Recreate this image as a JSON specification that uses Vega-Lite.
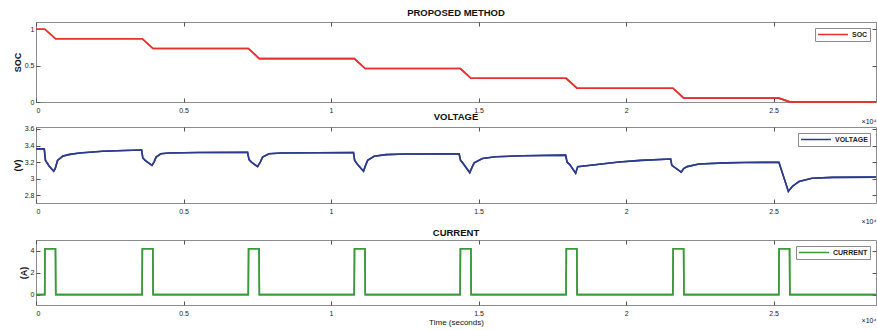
{
  "$schema": "https://vega.github.io/schema/vega-lite/v6.json",
  "padding": {"left": 12, "top": 7, "right": 0, "bottom": 0},
  "background": "white",
  "config": {
    "font": "Liberation Sans",
    "view": {"stroke": "#8c8c8c", "strokeWidth": 1},
    "axis": {
      "domain": false, "grid": false, "tickSize": -4, "tickColor": "#555",
      "labelFontSize": 7, "labelColor": "#222", "labelFont": "Liberation Sans",
      "titleFont": "Liberation Sans", "titleFontSize": 9, "titleFontWeight": "bold", "titleColor": "#111"
    },
    "legend": {
      "orient": "top-right", "offset": 6, "padding": 2, "strokeColor": "#8c8c8c", "fillColor": "white",
      "symbolType": "stroke", "symbolSize": 900, "symbolStrokeWidth": 1.5, "labelFontSize": 7,
      "labelFontWeight": "bold", "labelColor": "#222", "title": null, "labelOffset": 3, "clipHeight": 9
    },
    "title": {"fontSize": 9.5, "fontWeight": "bold", "color": "#111", "font": "Liberation Sans"}
  },
  "datasets": {
    "soc": [
      {"t": 0, "v": 1, "s": "SOC"}, {"t": 300, "v": 1, "s": "SOC"}, {"t": 665, "v": 0.87, "s": "SOC"},
      {"t": 3600, "v": 0.87, "s": "SOC"}, {"t": 3965, "v": 0.736, "s": "SOC"},
      {"t": 7200, "v": 0.736, "s": "SOC"}, {"t": 7565, "v": 0.597, "s": "SOC"},
      {"t": 10790, "v": 0.597, "s": "SOC"}, {"t": 11155, "v": 0.46, "s": "SOC"},
      {"t": 14380, "v": 0.46, "s": "SOC"}, {"t": 14745, "v": 0.326, "s": "SOC"},
      {"t": 17970, "v": 0.326, "s": "SOC"}, {"t": 18335, "v": 0.19, "s": "SOC"},
      {"t": 21590, "v": 0.19, "s": "SOC"}, {"t": 21955, "v": 0.053, "s": "SOC"},
      {"t": 25180, "v": 0.053, "s": "SOC"}, {"t": 25545, "v": 0.002, "s": "SOC"},
      {"t": 28470, "v": 0.002, "s": "SOC"}
    ],
    "volt": [
      {"t": 0, "v": 3.36, "s": "VOLTAGE"}, {"t": 280, "v": 3.36, "s": "VOLTAGE"}, {"t": 320, "v": 3.22, "s": "VOLTAGE"},
      {"t": 450, "v": 3.15, "s": "VOLTAGE"}, {"t": 600, "v": 3.09, "s": "VOLTAGE"}, {"t": 650, "v": 3.12, "s": "VOLTAGE"},
      {"t": 730, "v": 3.22, "s": "VOLTAGE"}, {"t": 900, "v": 3.27, "s": "VOLTAGE"}, {"t": 1100, "v": 3.29, "s": "VOLTAGE"},
      {"t": 1470, "v": 3.31, "s": "VOLTAGE"}, {"t": 2250, "v": 3.33, "s": "VOLTAGE"}, {"t": 3000, "v": 3.34, "s": "VOLTAGE"},
      {"t": 3580, "v": 3.345, "s": "VOLTAGE"}, {"t": 3620, "v": 3.25, "s": "VOLTAGE"}, {"t": 3700, "v": 3.22, "s": "VOLTAGE"},
      {"t": 3930, "v": 3.16, "s": "VOLTAGE"}, {"t": 4000, "v": 3.2, "s": "VOLTAGE"}, {"t": 4070, "v": 3.26, "s": "VOLTAGE"},
      {"t": 4230, "v": 3.3, "s": "VOLTAGE"}, {"t": 4500, "v": 3.31, "s": "VOLTAGE"}, {"t": 5500, "v": 3.315, "s": "VOLTAGE"},
      {"t": 7170, "v": 3.318, "s": "VOLTAGE"}, {"t": 7220, "v": 3.23, "s": "VOLTAGE"}, {"t": 7300, "v": 3.2, "s": "VOLTAGE"},
      {"t": 7510, "v": 3.145, "s": "VOLTAGE"}, {"t": 7600, "v": 3.2, "s": "VOLTAGE"}, {"t": 7680, "v": 3.26, "s": "VOLTAGE"},
      {"t": 7900, "v": 3.3, "s": "VOLTAGE"}, {"t": 8300, "v": 3.31, "s": "VOLTAGE"}, {"t": 10760, "v": 3.315, "s": "VOLTAGE"},
      {"t": 10800, "v": 3.22, "s": "VOLTAGE"}, {"t": 10900, "v": 3.17, "s": "VOLTAGE"}, {"t": 11100, "v": 3.09, "s": "VOLTAGE"},
      {"t": 11170, "v": 3.16, "s": "VOLTAGE"}, {"t": 11240, "v": 3.22, "s": "VOLTAGE"}, {"t": 11460, "v": 3.27, "s": "VOLTAGE"},
      {"t": 11860, "v": 3.29, "s": "VOLTAGE"}, {"t": 12500, "v": 3.297, "s": "VOLTAGE"}, {"t": 14340, "v": 3.3, "s": "VOLTAGE"},
      {"t": 14390, "v": 3.22, "s": "VOLTAGE"}, {"t": 14440, "v": 3.2, "s": "VOLTAGE"}, {"t": 14700, "v": 3.073, "s": "VOLTAGE"},
      {"t": 14770, "v": 3.13, "s": "VOLTAGE"}, {"t": 14850, "v": 3.19, "s": "VOLTAGE"}, {"t": 15130, "v": 3.244, "s": "VOLTAGE"},
      {"t": 15580, "v": 3.265, "s": "VOLTAGE"}, {"t": 16500, "v": 3.276, "s": "VOLTAGE"}, {"t": 17950, "v": 3.284, "s": "VOLTAGE"},
      {"t": 18000, "v": 3.2, "s": "VOLTAGE"}, {"t": 18090, "v": 3.17, "s": "VOLTAGE"}, {"t": 18290, "v": 3.065, "s": "VOLTAGE"},
      {"t": 18360, "v": 3.145, "s": "VOLTAGE"}, {"t": 19760, "v": 3.2, "s": "VOLTAGE"}, {"t": 20500, "v": 3.22, "s": "VOLTAGE"},
      {"t": 21510, "v": 3.237, "s": "VOLTAGE"}, {"t": 21550, "v": 3.16, "s": "VOLTAGE"}, {"t": 21870, "v": 3.077, "s": "VOLTAGE"},
      {"t": 21950, "v": 3.12, "s": "VOLTAGE"}, {"t": 22070, "v": 3.145, "s": "VOLTAGE"}, {"t": 22470, "v": 3.176, "s": "VOLTAGE"},
      {"t": 23370, "v": 3.19, "s": "VOLTAGE"}, {"t": 24000, "v": 3.195, "s": "VOLTAGE"}, {"t": 25180, "v": 3.197, "s": "VOLTAGE"},
      {"t": 25500, "v": 2.845, "s": "VOLTAGE"}, {"t": 25630, "v": 2.905, "s": "VOLTAGE"}, {"t": 25860, "v": 2.965, "s": "VOLTAGE"},
      {"t": 26300, "v": 3.005, "s": "VOLTAGE"}, {"t": 27000, "v": 3.015, "s": "VOLTAGE"}, {"t": 28470, "v": 3.018, "s": "VOLTAGE"}
    ],
    "curr": [
      {"t": 0, "v": 0, "s": "CURRENT"}, {"t": 295, "v": 0, "s": "CURRENT"}, {"t": 305, "v": 4.2, "s": "CURRENT"},
      {"t": 660, "v": 4.2, "s": "CURRENT"}, {"t": 670, "v": 0, "s": "CURRENT"},
      {"t": 3595, "v": 0, "s": "CURRENT"}, {"t": 3605, "v": 4.2, "s": "CURRENT"},
      {"t": 3960, "v": 4.2, "s": "CURRENT"}, {"t": 3970, "v": 0, "s": "CURRENT"},
      {"t": 7195, "v": 0, "s": "CURRENT"}, {"t": 7205, "v": 4.2, "s": "CURRENT"},
      {"t": 7560, "v": 4.2, "s": "CURRENT"}, {"t": 7570, "v": 0, "s": "CURRENT"},
      {"t": 10785, "v": 0, "s": "CURRENT"}, {"t": 10795, "v": 4.2, "s": "CURRENT"},
      {"t": 11150, "v": 4.2, "s": "CURRENT"}, {"t": 11160, "v": 0, "s": "CURRENT"},
      {"t": 14375, "v": 0, "s": "CURRENT"}, {"t": 14385, "v": 4.2, "s": "CURRENT"},
      {"t": 14740, "v": 4.2, "s": "CURRENT"}, {"t": 14750, "v": 0, "s": "CURRENT"},
      {"t": 17965, "v": 0, "s": "CURRENT"}, {"t": 17975, "v": 4.2, "s": "CURRENT"},
      {"t": 18330, "v": 4.2, "s": "CURRENT"}, {"t": 18340, "v": 0, "s": "CURRENT"},
      {"t": 21585, "v": 0, "s": "CURRENT"}, {"t": 21595, "v": 4.2, "s": "CURRENT"},
      {"t": 21950, "v": 4.2, "s": "CURRENT"}, {"t": 21960, "v": 0, "s": "CURRENT"},
      {"t": 25175, "v": 0, "s": "CURRENT"}, {"t": 25185, "v": 4.2, "s": "CURRENT"},
      {"t": 25540, "v": 4.2, "s": "CURRENT"}, {"t": 25550, "v": 0, "s": "CURRENT"},
      {"t": 28470, "v": 0, "s": "CURRENT"}
    ]
  },
  "spacing": 5,
  "bounds": "flush",
  "resolve": {"scale": {"color": "independent", "x": "independent", "y": "independent"}},
  "vconcat": [
    {
      "width": 840, "height": 80,
      "title": {"text": "PROPOSED METHOD", "offset": 4},
      "data": {"name": "soc"},
      "resolve": {"axis": {"x": "independent", "y": "independent"}},
      "layer": [
        {
          "mark": {"type": "line", "strokeWidth": 1.6},
          "encoding": {
            "x": {"field": "t", "type": "quantitative", "scale": {"domain": [0, 28470], "nice": false, "zero": false},
              "axis": {"orient": "bottom", "values": [0, 5000, 10000, 15000, 20000, 25000], "labelExpr": "datum.value / 10000", "title": null, "labelPadding": 8}},
            "y": {"field": "v", "type": "quantitative", "scale": {"domain": [0, 1.1], "nice": false, "zero": false},
              "axis": {"orient": "left", "values": [0, 0.5, 1], "format": "~g", "title": "SOC", "labelPadding": 6, "titlePadding": 2}},
            "color": {"field": "s", "type": "nominal", "scale": {"range": ["#e8312f"]}}
          }
        },
        {
          "mark": {"type": "line", "strokeWidth": 1.6},
          "encoding": {
            "x": {"field": "t", "type": "quantitative",
              "axis": {"orient": "top", "values": [0, 5000, 10000, 15000, 20000, 25000], "labels": false, "title": "×10⁴", "titleFontSize": 7, "titleFontWeight": "normal", "titleX": 840, "titleY": 99, "titleAlign": "right", "titleBaseline": "middle", "titleAngle": 0}},
            "y": {"field": "v", "type": "quantitative",
              "axis": {"orient": "right", "values": [0, 0.5, 1], "labels": false, "title": null}},
            "color": {"field": "s", "type": "nominal"}
          }
        }
      ]
    },
    {
      "width": 840, "height": 15,
      "view": {"stroke": null},
      "data": {"values": []},
      "mark": {"type": "rule"},
      "encoding": {}
    },
    {
      "width": 840, "height": 76,
      "title": {"text": "VOLTAGE", "offset": 3},
      "data": {"name": "volt"},
      "resolve": {"axis": {"x": "independent", "y": "independent"}},
      "layer": [
        {
          "mark": {"type": "line", "strokeWidth": 1.6},
          "encoding": {
            "x": {"field": "t", "type": "quantitative", "scale": {"domain": [0, 28470], "nice": false, "zero": false},
              "axis": {"orient": "bottom", "values": [0, 5000, 10000, 15000, 20000, 25000], "labelExpr": "datum.value / 10000", "title": null, "labelPadding": 8}},
            "y": {"field": "v", "type": "quantitative", "scale": {"domain": [2.705, 3.624], "nice": false, "zero": false},
              "axis": {"orient": "left", "values": [2.8, 3, 3.2, 3.4, 3.6], "format": "~g", "title": "(V)", "labelPadding": 6, "titlePadding": 2}},
            "color": {"field": "s", "type": "nominal", "scale": {"range": ["#2c3b8e"]}}
          }
        },
        {
          "mark": {"type": "line", "strokeWidth": 1.6},
          "encoding": {
            "x": {"field": "t", "type": "quantitative",
              "axis": {"orient": "top", "values": [0, 5000, 10000, 15000, 20000, 25000], "labels": false, "title": "×10⁴", "titleFontSize": 7, "titleFontWeight": "normal", "titleX": 840, "titleY": 94, "titleAlign": "right", "titleBaseline": "middle", "titleAngle": 0}},
            "y": {"field": "v", "type": "quantitative",
              "axis": {"orient": "right", "values": [2.8, 3, 3.2, 3.4, 3.6], "labels": false, "title": null}},
            "color": {"field": "s", "type": "nominal"}
          }
        }
      ]
    },
    {
      "width": 840, "height": 27,
      "view": {"stroke": null},
      "data": {"values": []},
      "mark": {"type": "rule"},
      "encoding": {}
    },
    {
      "width": 840, "height": 65,
      "title": {"text": "CURRENT", "offset": 2},
      "data": {"name": "curr"},
      "resolve": {"axis": {"x": "independent", "y": "independent"}},
      "layer": [
        {
          "mark": {"type": "line", "strokeWidth": 1.6},
          "encoding": {
            "x": {"field": "t", "type": "quantitative", "scale": {"domain": [0, 28470], "nice": false, "zero": false},
              "axis": {"orient": "bottom", "values": [0, 5000, 10000, 15000, 20000, 25000], "labelExpr": "datum.value / 10000", "title": "Time (seconds)", "titleFontWeight": "normal", "titleFontSize": 8, "labelPadding": 8, "titlePadding": 2}},
            "y": {"field": "v", "type": "quantitative", "scale": {"domain": [-0.95, 5], "nice": false, "zero": false},
              "axis": {"orient": "left", "values": [0, 2, 4], "format": "~g", "title": "(A)", "labelPadding": 6, "titlePadding": 2}},
            "color": {"field": "s", "type": "nominal", "scale": {"range": ["#3a9a3a"]}}
          }
        },
        {
          "mark": {"type": "line", "strokeWidth": 1.6},
          "encoding": {
            "x": {"field": "t", "type": "quantitative",
              "axis": {"orient": "top", "values": [0, 5000, 10000, 15000, 20000, 25000], "labels": false, "title": "×10⁴", "titleFontSize": 7, "titleFontWeight": "normal", "titleX": 840, "titleY": 80, "titleAlign": "right", "titleBaseline": "middle", "titleAngle": 0}},
            "y": {"field": "v", "type": "quantitative",
              "axis": {"orient": "right", "values": [0, 2, 4], "labels": false, "title": null}},
            "color": {"field": "s", "type": "nominal"}
          }
        }
      ]
    }
  ]
}
